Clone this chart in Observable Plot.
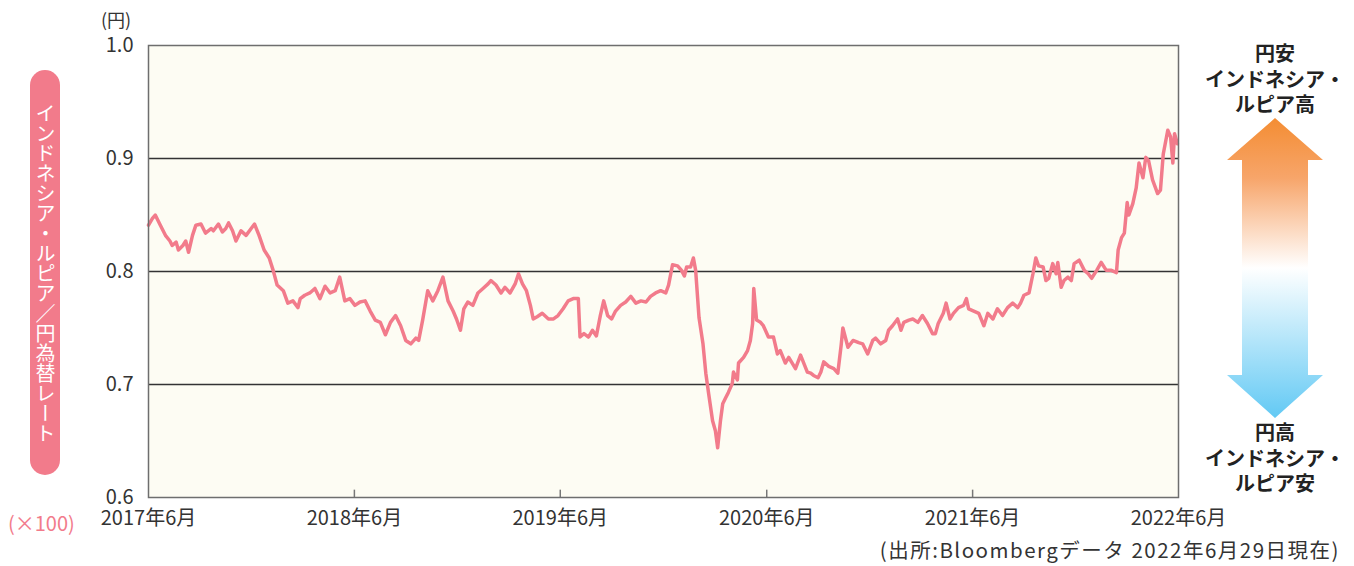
<!DOCTYPE html>
<html><head><meta charset="utf-8">
<script src="https://cdn.jsdelivr.net/npm/d3@7"></script>
<script src="https://cdn.jsdelivr.net/npm/@observablehq/plot@0.6"></script>
<style>
html,body{margin:0;padding:0;background:#fff;}
#wrap{position:relative;width:1354px;height:566px;font-family:"Noto Sans CJK JP","Noto Sans",sans-serif;color:#222;overflow:hidden;}
#wrap svg.plot{position:absolute;left:0;top:0;}
.abs{position:absolute;white-space:nowrap;}
#pill{left:30px;top:70px;width:30px;height:405px;border-radius:15px;background:#f27b8b;color:#fff;
 display:flex;align-items:center;justify-content:center;}
#pill span{writing-mode:vertical-rl;font-size:20px;line-height:1;}
.rt{font-size:20px;font-weight:bold;text-align:center;line-height:25.5px;width:160px;left:1195px;color:#222;}
</style></head>
<body><div id="wrap"></div>
<script>
const dates = ["2017-06-29","2017-07-06","2017-07-11","2017-07-20","2017-07-29","2017-08-06","2017-08-10","2017-08-17","2017-08-21","2017-08-29",
"2017-09-03","2017-09-08","2017-09-15","2017-09-21","2017-09-30","2017-10-08","2017-10-18","2017-10-22","2017-10-31","2017-11-07",
"2017-11-13","2017-11-18","2017-11-25","2017-12-01","2017-12-10","2017-12-19","2017-12-28","2018-01-03","2018-01-11","2018-01-20",
"2018-01-29","2018-02-05","2018-02-12","2018-02-23","2018-03-03","2018-03-12","2018-03-21","2018-03-25","2018-04-02","2018-04-11",
"2018-04-20","2018-04-29","2018-05-08","2018-05-17","2018-05-26","2018-06-03","2018-06-12","2018-06-21","2018-06-30","2018-07-09",
"2018-07-18","2018-07-27","2018-08-05","2018-08-14","2018-08-23","2018-09-01","2018-09-10","2018-09-19","2018-09-28","2018-10-07",
"2018-10-16","2018-10-21","2018-10-28","2018-11-06","2018-11-15","2018-11-24","2018-12-03","2018-12-12","2018-12-21","2018-12-27",
"2019-01-03","2019-01-09","2019-01-16","2019-01-25","2019-02-03","2019-02-12","2019-02-21","2019-02-26","2019-03-07","2019-03-16",
"2019-03-23","2019-04-01","2019-04-10","2019-04-16","2019-04-23","2019-04-30","2019-05-07","2019-05-12","2019-05-19","2019-05-28",
"2019-06-08","2019-06-17","2019-06-25","2019-07-04","2019-07-13","2019-07-22","2019-07-31","2019-08-03","2019-08-10","2019-08-18",
"2019-08-25","2019-09-01","2019-09-08","2019-09-14","2019-09-21","2019-09-28","2019-10-05","2019-10-14","2019-10-23","2019-11-01",
"2019-11-10","2019-11-19","2019-11-28","2019-12-06","2019-12-15","2019-12-24","2020-01-02","2020-01-07","2020-01-14","2020-01-23",
"2020-01-30","2020-02-04","2020-02-08","2020-02-15","2020-02-20","2020-02-24","2020-03-01","2020-03-08","2020-03-13","2020-03-18",
"2020-03-25","2020-03-30","2020-04-03","2020-04-08","2020-04-12","2020-04-17","2020-04-22","2020-04-29","2020-05-01","2020-05-08",
"2020-05-10","2020-05-19","2020-05-26","2020-05-31","2020-06-04","2020-06-06","2020-06-11","2020-06-18","2020-06-23","2020-07-02",
"2020-07-11","2020-07-18","2020-07-23","2020-08-01","2020-08-07","2020-08-19","2020-08-28","2020-09-09","2020-09-15","2020-09-20",
"2020-09-28","2020-10-03","2020-10-08","2020-10-17","2020-10-26","2020-11-02","2020-11-08","2020-11-11","2020-11-20","2020-11-29",
"2020-12-09","2020-12-16","2020-12-25","2021-01-03","2021-01-08","2021-01-17","2021-01-26","2021-01-31","2021-02-07","2021-02-16",
"2021-02-22","2021-02-27","2021-03-08","2021-03-15","2021-03-24","2021-04-01","2021-04-10","2021-04-19","2021-04-24","2021-04-29",
"2021-05-08","2021-05-13","2021-05-20","2021-05-26","2021-06-04","2021-06-13","2021-06-18","2021-06-22","2021-07-01","2021-07-10",
"2021-07-19","2021-07-26","2021-08-04","2021-08-12","2021-08-21","2021-08-30","2021-09-08","2021-09-17","2021-09-22","2021-09-28",
"2021-10-07","2021-10-14","2021-10-19","2021-10-24","2021-11-01","2021-11-06","2021-11-11","2021-11-18","2021-11-24","2021-11-27",
"2021-12-03","2021-12-08","2021-12-15","2021-12-21","2021-12-26","2022-01-04","2022-01-13","2022-01-20","2022-01-26","2022-02-04",
"2022-02-12","2022-02-21","2022-03-02","2022-03-11","2022-03-14","2022-03-20","2022-03-25","2022-03-30","2022-04-02","2022-04-09",
"2022-04-15","2022-04-20","2022-04-27","2022-05-02","2022-05-07","2022-05-14","2022-05-23","2022-05-28","2022-06-02","2022-06-10",
"2022-06-15","2022-06-19","2022-06-22","2022-06-27"];
const rates = [0.841,0.847,0.850,0.841,0.832,0.827,0.823,0.826,0.819,0.823,
0.827,0.817,0.832,0.841,0.842,0.834,0.838,0.836,0.842,0.835,
0.838,0.843,0.836,0.827,0.836,0.832,0.838,0.842,0.832,0.819,
0.812,0.801,0.788,0.783,0.772,0.774,0.768,0.776,0.779,0.781,
0.785,0.776,0.787,0.781,0.783,0.795,0.774,0.776,0.770,0.773,
0.774,0.765,0.757,0.755,0.744,0.755,0.761,0.752,0.739,0.736,
0.741,0.739,0.757,0.783,0.774,0.783,0.795,0.774,0.765,0.758,
0.748,0.767,0.773,0.770,0.781,0.785,0.789,0.792,0.788,0.781,
0.786,0.781,0.789,0.798,0.789,0.783,0.770,0.758,0.760,0.763,
0.758,0.758,0.761,0.767,0.774,0.776,0.776,0.742,0.745,0.742,
0.748,0.743,0.761,0.774,0.761,0.758,0.765,0.770,0.773,0.778,
0.772,0.774,0.773,0.778,0.781,0.783,0.781,0.788,0.806,0.805,
0.801,0.796,0.804,0.804,0.812,0.801,0.759,0.736,0.710,0.692,
0.668,0.659,0.644,0.668,0.683,0.688,0.693,0.701,0.711,0.704,
0.719,0.724,0.730,0.739,0.754,0.785,0.757,0.755,0.752,0.742,
0.742,0.727,0.730,0.719,0.724,0.714,0.726,0.711,0.710,0.708,
0.706,0.711,0.720,0.716,0.714,0.710,0.735,0.750,0.733,0.739,
0.737,0.736,0.727,0.739,0.741,0.736,0.739,0.748,0.752,0.758,
0.748,0.755,0.757,0.758,0.755,0.761,0.754,0.745,0.745,0.754,
0.763,0.772,0.758,0.763,0.768,0.770,0.776,0.767,0.765,0.763,
0.752,0.763,0.758,0.767,0.761,0.768,0.772,0.768,0.772,0.779,
0.781,0.798,0.812,0.805,0.804,0.792,0.794,0.807,0.798,0.808,
0.786,0.792,0.795,0.792,0.807,0.810,0.801,0.798,0.794,0.801,
0.808,0.801,0.801,0.799,0.819,0.830,0.834,0.861,0.850,0.860,
0.874,0.896,0.883,0.901,0.898,0.881,0.869,0.872,0.904,0.925,
0.919,0.896,0.922,0.913];
const yTicks = [0.6, 0.7, 0.8, 0.9, 1.0];
const gridValues = [0.7, 0.8, 0.9];
const xTickDates = ["2017-06-29","2018-06-29","2019-06-29","2020-06-29","2021-06-29","2022-06-29"];
const xTickLabels = ["2017年6月","2018年6月","2019年6月","2020年6月","2021年6月","2022年6月"];

const data = dates.map((d, i) => ({date: new Date(d), rate: rates[i]}));
const tickDates = xTickDates.map(d => new Date(d));
const labelOf = new Map(tickDates.map((d, i) => [+d, xTickLabels[i]]));

const chart = Plot.plot({
  width: 1354, height: 566,
  marginLeft: 148, marginRight: 176, marginTop: 45, marginBottom: 69,
  style: {fontSize: "20px", fontFamily: "'Noto Sans CJK JP','Noto Sans',sans-serif", color: "#333", background: "transparent", overflow: "visible"},
  x: {type: "utc", domain: [tickDates[0], tickDates[tickDates.length - 1]]},
  y: {domain: [0.6, 1.0]},
  marks: [
    Plot.frame({fill: "#fdfcf3"}),
    Plot.ruleY(gridValues, {stroke: "#333", strokeWidth: 1.5}),
    Plot.ruleX(tickDates.slice(1, -1), {y1: 0.6, y2: 0.6065, stroke: "#777", strokeWidth: 1.5}),
    Plot.line(data, {x: "date", y: "rate", stroke: "#f27b8b", strokeWidth: 3.5, strokeLinejoin: "round"}),
    Plot.axisX(tickDates, {tickSize: 0, tickPadding: 13, tickFormat: d => labelOf.get(+d), label: null, fill: "#333"}),
    Plot.axisY(yTicks, {tickSize: 0, tickPadding: 15, tickFormat: d3.format(".1f"), label: null, fill: "#333"}),
    Plot.frame({stroke: "#6e6e6e", strokeWidth: 1.5})
  ]
});
chart.classList.add("plot");
const wrap = document.getElementById("wrap");
wrap.appendChild(chart);

wrap.insertAdjacentHTML("beforeend", `
<div class="abs" style="left:101px;top:6px;font-size:18px;color:#333;">(円)</div>
<div class="abs" id="pill"><span>インドネシア・ルピア／円為替レート</span></div>
<div class="abs" style="left:8px;top:508px;font-size:20px;color:#f27b8b;">(×100)</div>
<div class="abs rt" style="top:40px;">円安<br>インドネシア・<br>ルピア高</div>
<div class="abs rt" style="top:419px;">円高<br>インドネシア・<br>ルピア安</div>
<svg class="abs" style="left:1220px;top:110px;" width="110" height="315" viewBox="1220 110 110 315">
  <defs><linearGradient id="ag" x1="0" y1="0" x2="0" y2="1">
    <stop offset="0" stop-color="#f48d33"/>
    <stop offset="0.2" stop-color="#f7a56a"/>
    <stop offset="0.5" stop-color="#ffffff"/>
    <stop offset="1" stop-color="#62c9f4"/>
  </linearGradient></defs>
  <polygon fill="url(#ag)" points="1275,118 1323,160 1308,160 1308,375 1323,375 1275,418 1227,375 1242,375 1242,160 1227,160"/>
</svg>
<div class="abs" style="right:14px;top:536px;font-size:20.5px;letter-spacing:1.5px;line-height:1.3;color:#333;">(出所:Bloombergデータ 2022年6月29日現在)</div>
`);
</script>
</body></html>
